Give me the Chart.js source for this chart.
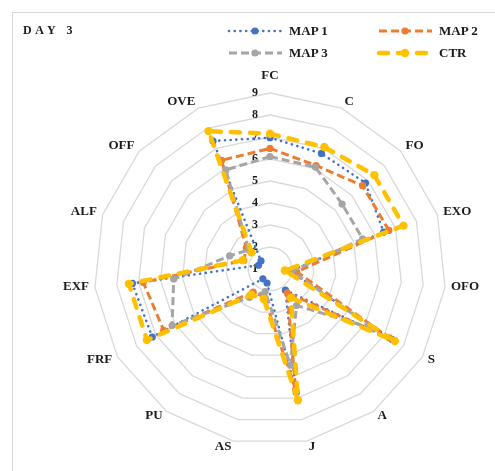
<!DOCTYPE html>
<html>
<head>
<meta charset="utf-8">
<script src="https://cdn.jsdelivr.net/npm/chart.js@4.4.1/dist/chart.umd.min.js"></script>
<style>
  html, body { margin: 0; padding: 0; background: #fff; }
  #wrap { position: relative; width: 495px; height: 471px; overflow: hidden; }
  #frame { position: absolute; left: 12px; top: 12px; width: 520px; height: 500px; border: 1px solid #d9d9d9; }
  #title { position: absolute; left: 23px; top: 23px; font: bold 12px "Liberation Serif", serif; letter-spacing: 0.6px; white-space: pre; color: #1a1a1a; }
  #legend { position: absolute; left: 226px; top: 22px; display: grid; grid-template-columns: 150px 150px; row-gap: 5px; }
  .item { display: flex; align-items: center; height: 17px; font: bold 13px "Liberation Serif", serif; color: #1a1a1a; }
  .item canvas { margin-right: 5px; }
  #chart { position: absolute; left: 0; top: 0; }
</style>
</head>
<body>
<div id="wrap">
  <div id="frame"></div>
  <canvas id="chart" width="495" height="471"></canvas>
  <div id="title">D A Y   3</div>
  <div id="legend"></div>
</div>
<script>
// categories and values (axis 1..9)
const categories = ["FC", "C", "FO", "EXO", "OFO", "S", "A", "J", "AS", "PU", "FRF", "EXF", "ALF", "OFF", "OVE"];
const map1 = [6.97, 6.75, 6.84, 6.43, 1.9, 7.42, 2.19, 6.74, 1.65, 1.55, 7.18, 7.29, 1.55, 1.55, 7.37];
const map2 = [6.48, 6.15, 6.66, 6.68, 2.22, 7.27, 2.34, 6.6, 2.3, 2.3, 6.58, 6.79, 2.25, 2.45, 6.41];
const map3 = [6.11, 6.07, 5.41, 5.43, 2.0, 6.43, 3.05, 5.47, 2.05, 2.6, 6.14, 5.4, 2.93, 2.3, 5.93];
const ctr = [7.15, 7.07, 7.38, 7.38, 1.68, 7.55, 2.62, 7.1, 2.39, 2.45, 7.46, 7.45, 2.3, 2.13, 7.86];
const axisMin = 1, axisMax = 9;

const serif = '"Liberation Serif", "Times New Roman", serif';

function series(label, data, color, width, dash, cap, radius, order) {
  return {
    label, data, order,
    borderColor: color, backgroundColor: color,
    borderWidth: width, borderDash: dash, borderCapStyle: cap, borderJoinStyle: "round",
    pointBackgroundColor: color, pointBorderColor: color, pointBorderWidth: 0,
    pointRadius: radius, pointHoverRadius: radius, fill: false, tension: 0
  };
}

const datasets = [
  series("MAP 1", map1, "#4472C4", 2.6, [0.1, 5.6], "round", 3.6, 4),
  series("MAP 2", map2, "#ED7D31", 3, [8, 4], "butt", 3.6, 3),
  series("MAP 3", map3, "#A5A5A5", 3, [8, 4], "butt", 3.6, 2),
  series("CTR", ctr, "#FFC000", 4.5, [9, 10], "round", 4.2, 1)
];

// value labels left of the vertical axis, category labels set beside each outer corner
const radarText = {
  id: "radarText",
  beforeDatasetsDraw(chart) {
    const r = chart.scales.r;
    const ctx = chart.ctx;
    ctx.save();
    ctx.fillStyle = "#1a1a1a";
    ctx.textBaseline = "middle";

    ctx.font = "bold 12px " + serif;
    ctx.textAlign = "right";
    r.ticks.forEach(t => {
      const d = r.getDistanceFromCenterForValue(t.value);
      ctx.fillText(t.label, r.xCenter - 12, r.yCenter - d);
    });

    ctx.font = "bold 13px " + serif;
    ctx.textAlign = "center";
    const n = chart.data.labels.length;
    chart.data.labels.forEach((label, i) => {
      const a = 2 * Math.PI * i / n;
      const s = Math.sin(a), c = Math.cos(a);
      const w = ctx.measureText(label).width;
      const p = r.getPointPosition(i, r.drawingArea);
      const dx = Math.abs(s) < 1e-6 ? 0 : Math.sign(s) * (w / 2 + 1 + 5 * Math.abs(s));
      const dy = -c * 6.5 - 1 - (i === 0 ? 10 : 0); // top label clears the value axis
      ctx.fillText(label, p.x + dx, p.y + dy);
    });
    ctx.restore();
  }
};

const chart = new Chart(document.getElementById("chart"), {
  type: "radar",
  data: { labels: categories, datasets },
  options: {
    responsive: false,
    animation: false,
    layout: { padding: { top: 93, left: 94, right: 49, bottom: 26 } },
    plugins: { legend: { display: false }, tooltip: { enabled: false } },
    scales: {
      r: {
        min: axisMin, max: axisMax,
        ticks: { stepSize: 1, display: false },
        grid: { color: "#d9d9d9", lineWidth: 1.3 },
        angleLines: { display: false },
        pointLabels: { display: false }
      }
    }
  },
  plugins: [radarText]
});

// legend in two columns built from the datasets
const legend = document.getElementById("legend");
["MAP 1", "MAP 2", "MAP 3", "CTR"].forEach(name => {
  const ds = datasets.find(d => d.label === name);
  const item = document.createElement("div");
  item.className = "item";
  const c = document.createElement("canvas");
  c.width = 58; c.height = 12;
  const g = c.getContext("2d");
  g.strokeStyle = ds.borderColor;
  g.lineWidth = ds.borderWidth;
  g.lineCap = ds.borderCapStyle;
  g.setLineDash(ds.borderDash);
  g.beginPath(); g.moveTo(3, 6); g.lineTo(56, 6); g.stroke();
  g.fillStyle = ds.borderColor;
  g.beginPath(); g.arc(29, 6, ds.pointRadius, 0, Math.PI * 2); g.fill();
  item.appendChild(c);
  item.appendChild(document.createTextNode(ds.label));
  legend.appendChild(item);
});
</script>
</body>
</html>
